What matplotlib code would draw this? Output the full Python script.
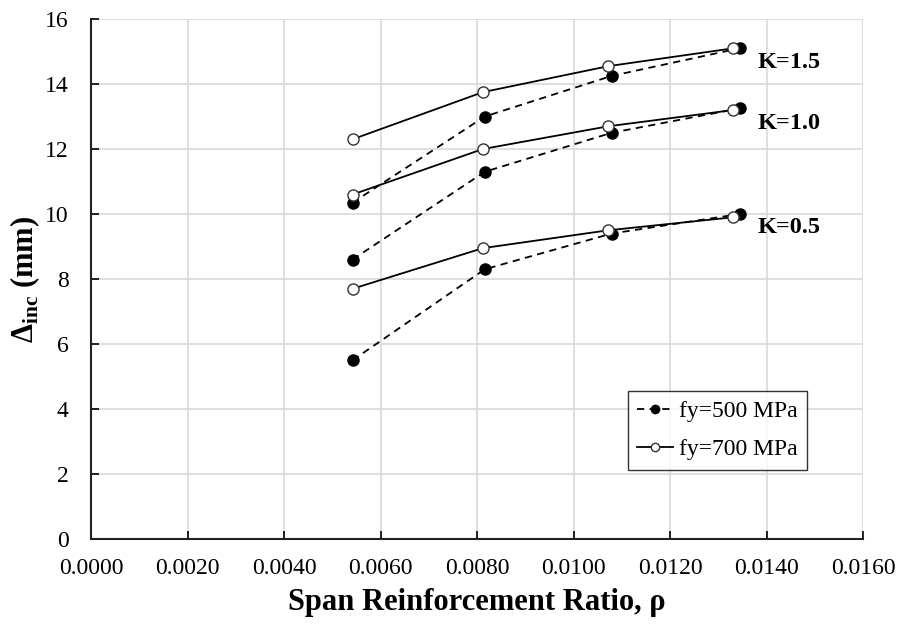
import matplotlib
matplotlib.use("Agg")
import matplotlib.pyplot as plt

plt.rcParams['font.family'] = ['Liberation Serif', 'DejaVu Serif']
plt.rcParams['mathtext.fontset'] = 'custom'
plt.rcParams['mathtext.rm'] = 'Liberation Serif'
plt.rcParams['mathtext.bf'] = 'Liberation Serif:bold'

# Span reinforcement ratios
rho_500 = [0.00542, 0.00816, 0.01079, 0.01344]
rho_700 = [0.00542, 0.00812, 0.01072, 0.01331]

# Incremental deflection (mm), fy = 500 MPa
d500_k05 = [5.5, 8.3, 9.4, 10.0]
d500_k10 = [8.6, 11.3, 12.5, 13.25]
d500_k15 = [10.35, 13.0, 14.25, 15.1]

# Incremental deflection (mm), fy = 700 MPa
d700_k05 = [7.7, 8.95, 9.5, 9.9]
d700_k10 = [10.6, 12.0, 12.7, 13.2]
d700_k15 = [12.3, 13.75, 14.55, 15.1]

k_labels = ["K=0.5", "K=1.0", "K=1.5"]
k_label_y = [9.57, 12.8, 14.65]

x_ticks = [0.0000, 0.0020, 0.0040, 0.0060, 0.0080, 0.0100, 0.0120, 0.0140, 0.0160]
y_ticks = [0, 2, 4, 6, 8, 10, 12, 14, 16]

fig = plt.figure(figsize=(9.02, 6.28), dpi=100)
ax = fig.add_axes([0.1009, 0.1417, 0.856, 0.828])

for i, (d5, d7) in enumerate([(d500_k05, d700_k05), (d500_k10, d700_k10), (d500_k15, d700_k15)]):
    ax.plot(rho_500, d5, color='black', linestyle=(0, (4, 3)), linewidth=1.3,
            marker='o', markersize=8, markerfacecolor='black', markeredgecolor='black',
            label='fy=500 MPa' if i == 0 else None, zorder=3)
    ax.plot(rho_700, d7, color='black', linestyle='-', linewidth=1.3,
            marker='o', markersize=8, markerfacecolor='white', markeredgecolor='#333333',
            markeredgewidth=1.0, label='fy=700 MPa' if i == 0 else None, zorder=4)

for lab, yy in zip(k_labels, k_label_y):
    ax.text(0.01381, yy, lab, fontsize=17.5, fontweight='bold', ha='left', va='center')

ax.set_xlim(0, 0.016)
ax.set_ylim(0, 16)
ax.set_xticks(x_ticks)
ax.set_xticklabels([f"{v:.4f}" for v in x_ticks])
ax.set_yticks(y_ticks)
ax.grid(True, color='#d9d9d9', linewidth=1.2)
ax.set_axisbelow(True)

for s in ['top', 'right']:
    ax.spines[s].set_visible(False)
for s in ['left', 'bottom']:
    ax.spines[s].set_linewidth(1.5)
    ax.spines[s].set_color('#222222')

ax.tick_params(axis='x', direction='in', length=6, width=1.2, labelsize=17, pad=14)
ax.tick_params(axis='y', direction='in', length=6, width=1.2, labelsize=17, pad=16)

ax.set_xlabel('Span Reinforcement Ratio, ρ', fontsize=22, fontweight='bold', labelpad=6)
ax.set_ylabel(r'$\mathbf{\Delta}_{\mathbf{inc}}$' + ' (mm)', fontsize=22, fontweight='bold', labelpad=2)

leg = ax.legend(loc='lower right', bbox_to_anchor=(0.927, 0.133), fontsize=17,
                frameon=True, fancybox=False, edgecolor='black', handlelength=1.5,
                markerscale=0.75, borderpad=0.4, labelspacing=0.7, handletextpad=0.25,
                borderaxespad=0)
leg.get_frame().set_linewidth(1.0)

fig.savefig('out.png', dpi=100)
